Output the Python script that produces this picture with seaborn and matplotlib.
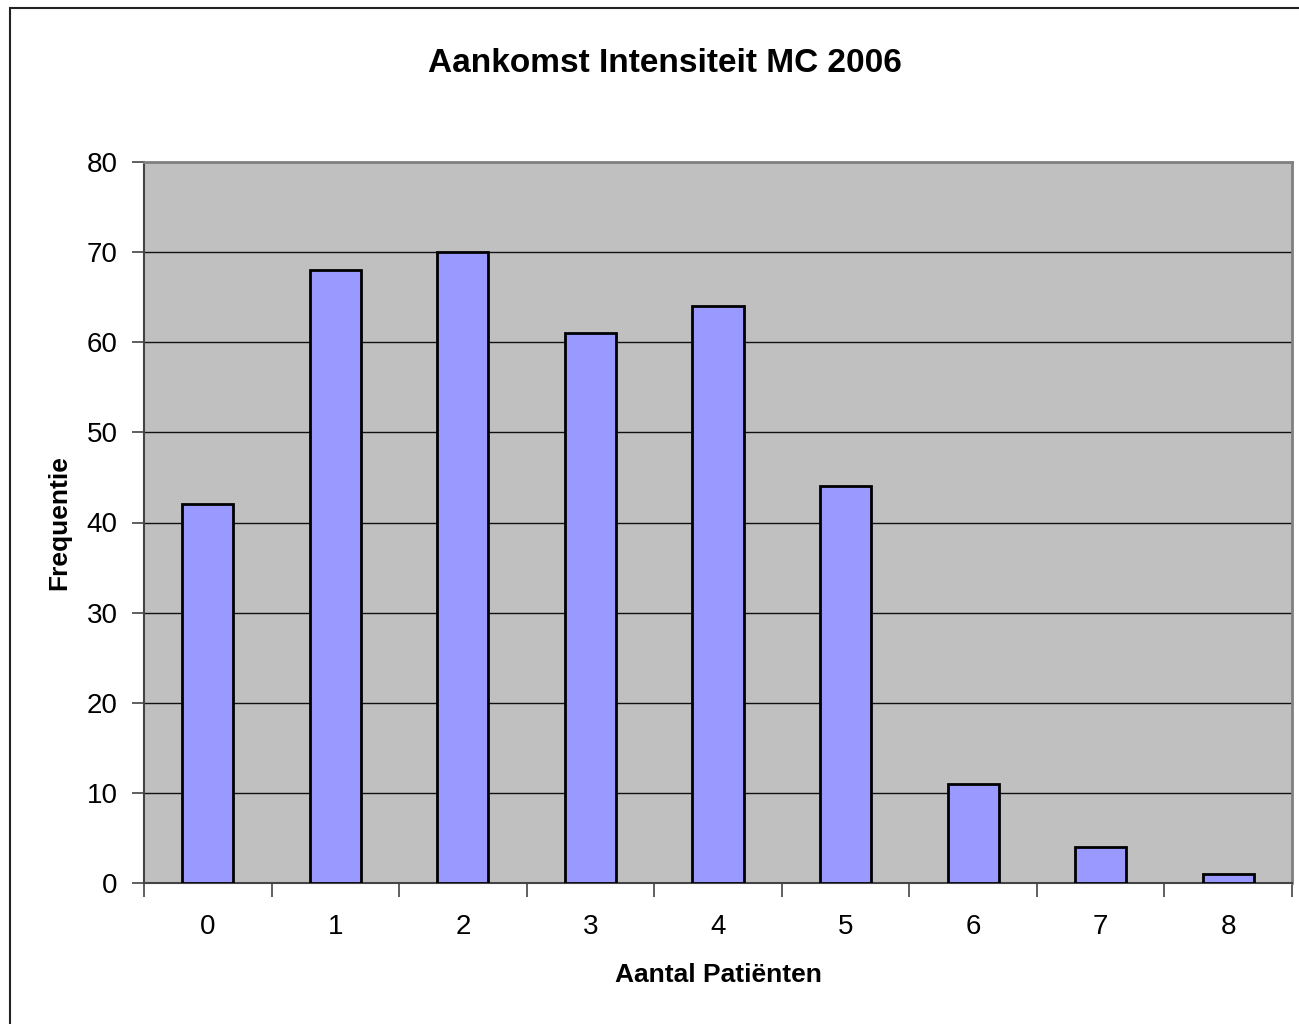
import matplotlib
matplotlib.use("Agg")
import matplotlib.pyplot as plt
import seaborn as sns
import pandas as pd
from matplotlib.patches import Rectangle
from matplotlib.ticker import FixedLocator

# Arrival counts per hour and how often each count occurred
categories = ["0", "1", "2", "3", "4", "5", "6", "7", "8"]
frequencies = [42, 68, 70, 61, 64, 44, 11, 4, 1]
y_ticks = [0, 10, 20, 30, 40, 50, 60, 70, 80]

sns.set_theme(style="white")
plt.rcParams["font.family"] = ["Liberation Sans", "DejaVu Sans"]
plt.rcParams["text.color"] = "black"
plt.rcParams["axes.labelcolor"] = "black"
plt.rcParams["xtick.color"] = "black"
plt.rcParams["ytick.color"] = "black"

W, H = 1299, 1024
fig = plt.figure(figsize=(W / 100, H / 100), dpi=100)
fig.patch.set_facecolor("white")

# Outer chart frame
fig.patches.append(Rectangle((10 / W, -0.05), 1.2, 1 - 8 / H + 0.05,
                             transform=fig.transFigure, fill=False,
                             edgecolor="#222222", linewidth=1.5, zorder=0))

left, right, top, bottom = 144 / W, 1292 / W, 162 / H, 883 / H
ax = fig.add_axes([left, 1 - bottom, right - left, bottom - top])
ax.set_facecolor("#C0C0C0")

df = pd.DataFrame({"Aantal": categories, "Frequentie": frequencies})
sns.barplot(data=df, x="Aantal", y="Frequentie", color="#9999FF",
            saturation=1, width=0.4, edgecolor="black", linewidth=2,
            ax=ax, zorder=3)

ax.set_ylim(0, 80)
ax.set_xlim(-0.5, len(categories) - 0.5)
ax.set_yticks(y_ticks)
ax.yaxis.grid(True, color="#111111", linewidth=1)
ax.set_axisbelow(True)

# Tick marks sit on the category boundaries
ax.xaxis.set_minor_locator(FixedLocator([i - 0.5 for i in range(len(categories) + 1)]))
ax.tick_params(axis="x", which="major", bottom=True, length=0, pad=22,
               labelsize=20, labelcolor="black")
ax.tick_params(axis="x", which="minor", bottom=True, length=10, width=1.2,
               color="#444444", direction="out")
ax.tick_params(axis="y", which="major", left=True, length=9, width=1.2,
               color="#444444", direction="out", labelsize=20, pad=10,
               labelcolor="black")

for side in ["left", "bottom"]:
    ax.spines[side].set_color("#444444")
    ax.spines[side].set_linewidth(1.5)
for side in ["top", "right"]:
    ax.spines[side].set_color("#808080")
    ax.spines[side].set_linewidth(2)

ax.set_xlabel("Aantal Patiënten", fontsize=19, fontweight="bold", labelpad=17,
              color="black")
ax.set_ylabel("Frequentie", fontsize=19, fontweight="bold", labelpad=11,
              color="black")

fig.text(665 / W, 1 - 63 / H, "Aankomst Intensiteit MC 2006", ha="center",
         va="center", fontsize=24, fontweight="bold", color="black")

fig.savefig("out.png", dpi=100)
